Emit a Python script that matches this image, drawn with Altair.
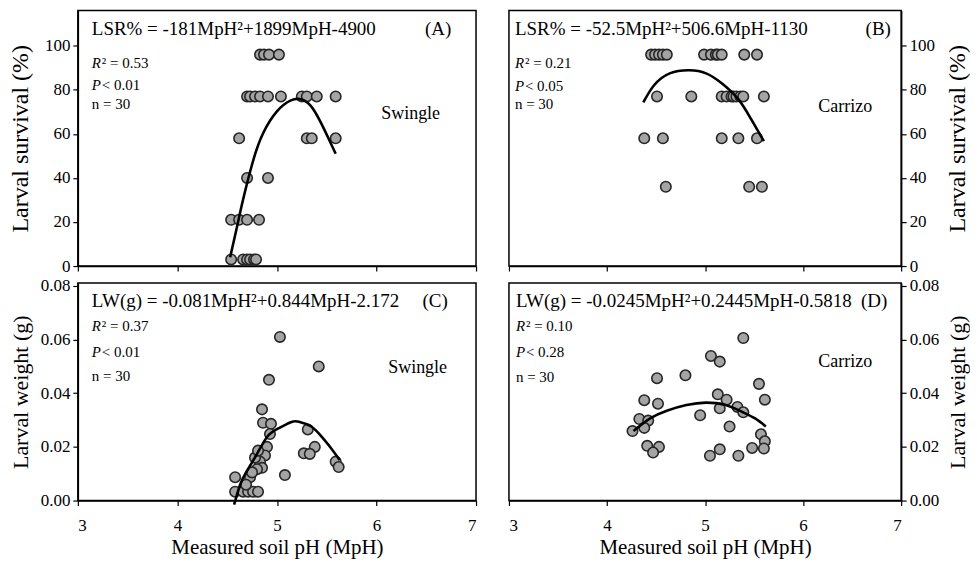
import altair as alt
import pandas as pd

FONT = "Liberation Serif"

# ---------------- data ----------------
# (A) Swingle, larval survival (%)
a_ph = [4.83, 4.87, 4.92, 5.02,
        4.70, 4.73, 4.78, 4.83, 4.91, 5.04, 5.25, 5.30, 5.40, 5.59,
        4.62, 5.30, 5.35, 5.59,
        4.70, 4.91,
        4.54, 4.62, 4.70, 4.82,
        4.54, 4.66, 4.70, 4.73, 4.77, 4.79]
a_val = [96, 96, 96, 96,
         77, 77, 77, 77, 77, 77, 77, 77, 77, 77,
         58, 58, 58, 58,
         40, 40,
         21, 21, 21, 21,
         3, 3, 3, 3, 3, 3]
a_fit_ph = [4.53, 4.59, 4.66, 4.76, 4.86, 5.00, 5.14, 5.24, 5.34, 5.44, 5.53, 5.59]
a_fit_val = [4.0, 16.0, 30.2, 47.7, 60.2, 70.2, 75.2, 75.7, 72.7, 65.2, 56.8, 51.0]

# (B) Carrizo, larval survival (%)
b_ph = [4.45, 4.49, 4.53, 4.57, 4.61, 4.99, 5.06, 5.11, 5.13, 5.17, 5.40, 5.53,
        4.51, 4.86, 5.17, 5.22, 5.27, 5.29, 5.32, 5.36, 5.39, 5.60,
        4.38, 4.57, 5.17, 5.34, 5.53,
        4.60, 5.45, 5.58]
b_val = [96] * 12 + [77] * 10 + [58] * 5 + [36] * 3
b_fit_ph = [4.37, 4.48, 4.64, 4.84, 5.01, 5.17, 5.34, 5.47, 5.60]
b_fit_val = [74.3, 82.1, 87.5, 88.9, 87.5, 83.0, 75.7, 66.7, 56.7]

# (C) Swingle, larval weight (g)
c_ph = [5.03, 5.42, 4.92, 4.85, 4.86, 4.94, 4.93, 5.31, 4.90, 4.88,
        4.83, 4.85, 5.38, 5.27, 5.33, 5.59, 5.62, 5.08, 4.58, 4.73,
        4.80, 4.58, 4.66, 4.71, 4.76, 4.81, 4.69, 4.78, 4.81, 4.75]
c_val = [0.061, 0.050, 0.045, 0.034, 0.029, 0.0286, 0.0248, 0.0265, 0.020, 0.0168,
         0.0145, 0.0122, 0.020, 0.0176, 0.0174, 0.0145, 0.0125, 0.0095, 0.0087, 0.0087,
         0.0117, 0.0033, 0.0033, 0.0033, 0.0033, 0.0033, 0.0059, 0.016, 0.0186, 0.0105]
c_fit_ph = [4.57, 4.63, 4.69, 4.80, 4.90, 5.00, 5.14, 5.22, 5.34, 5.44, 5.54, 5.63]
c_fit_val = [-0.0015, 0.0059, 0.0105, 0.0174, 0.0237, 0.0266, 0.0292, 0.0294, 0.0277, 0.0242, 0.0197, 0.0151]

# (D) Carrizo, larval weight (g)
d_ph = [5.39, 5.06, 5.15, 4.51, 4.80, 5.55, 4.38, 4.52, 5.61, 5.13,
        5.22, 5.33, 5.39, 5.15, 4.95, 4.33, 4.42, 4.38, 4.26, 5.25,
        5.57, 5.61, 4.41, 4.53, 4.47, 5.05, 5.15, 5.34, 5.48, 5.60]
d_val = [0.0606, 0.0539, 0.0518, 0.0456, 0.0467, 0.0435, 0.0374, 0.0361, 0.0376, 0.0396,
         0.0376, 0.0349, 0.0329, 0.0344, 0.0318, 0.0304, 0.0298, 0.0271, 0.0259, 0.0276,
         0.0247, 0.0221, 0.0204, 0.0200, 0.0179, 0.0167, 0.0191, 0.0167, 0.0196, 0.0194]
d_fit_ph = [4.27, 4.44, 4.61, 4.81, 5.01, 5.21, 5.37, 5.51, 5.62]
d_fit_val = [0.0259, 0.0306, 0.0335, 0.0356, 0.0365, 0.0356, 0.0332, 0.0306, 0.0276]

x_ticks = [3, 4, 5, 6, 7]
surv_ticks = [0, 20, 40, 60, 80, 100]
weight_ticks = [0.00, 0.02, 0.04, 0.06, 0.08]

eqs = {
    "A": "LSR% = -181MpH\u00b2+1899MpH-4900",
    "B": "LSR% = -52.5MpH\u00b2+506.6MpH-1130",
    "C": "LW(g) = -0.081MpH\u00b2+0.844MpH-2.172",
    "D": "LW(g) = -0.0245MpH\u00b2+0.2445MpH-0.5818",
}
stats = {
    "A": ["0.53", "< 0.01"],
    "B": ["0.21", "< 0.05"],
    "C": ["0.37", "< 0.01"],
    "D": ["0.10", "< 0.28"],
}
cultivar = {"A": "Swingle", "B": "Carrizo", "C": "Swingle", "D": "Carrizo"}


def txt(s, x, y, size, align="left", style="normal"):
    return alt.Chart(pd.DataFrame({"t": [s]})).mark_text(
        align=align, baseline="middle", font=FONT, fontSize=size,
        fontStyle=style, color="black"
    ).encode(text="t:N", x=alt.value(x), y=alt.value(y))


def panel(key, ph, val, fph, fval, w, h, ydom, yticks, yfmt, yorient, ytitle,
          tsize, bottom, pos):
    pts = pd.DataFrame({"ph": ph, "v": val})
    fit = pd.DataFrame({"ph": fph, "v": fval})
    xaxis = alt.Axis(values=x_ticks, labels=bottom, format="d",
                     title="Measured soil pH (MpH)" if bottom else None,
                     labelPadding=12, titlePadding=3)
    if yorient == "left":
        yaxis = alt.Axis(values=yticks, format=yfmt, orient="left", title=ytitle,
                         titleX=-57, titleBaseline="middle", titleAngle=270,
                         titleFontSize=tsize)
    else:
        yaxis = alt.Axis(values=yticks, format=yfmt, orient="right", title=ytitle,
                         titleX=56, titleBaseline="middle", titleAngle=270,
                         titleFontSize=tsize)
    xs = alt.X("ph:Q", scale=alt.Scale(domain=[3, 7], nice=False, zero=False), axis=xaxis)
    ys = alt.Y("v:Q", scale=alt.Scale(domain=ydom, nice=False, zero=False), axis=yaxis)
    points = alt.Chart(pts).mark_point(
        shape="circle", filled=True, size=110, fill="#a4a4a4", stroke="#262626",
        strokeWidth=1.6, opacity=1
    ).encode(x=xs, y=ys)
    line = alt.Chart(fit).mark_line(color="black", strokeWidth=2.6,
                                    interpolate="natural").encode(x="ph:Q", y="v:Q")
    p = pos
    layers = [points, line,
              txt(eqs[key], p["eqx"], p["eqy"], 19),
              txt("(" + key + ")", p["lx"], p["eqy"], 19, align="center"),
              txt("R", p["eqx"], p["r"], 15, style="italic"),
              txt("\u00b2 = " + stats[key][0], p["eqx"] + 10, p["r"], 15),
              txt("P", p["eqx"], p["p"], 15, style="italic"),
              txt(" " + stats[key][1], p["eqx"] + 10, p["p"], 15),
              txt("n = 30", p["eqx"], p["n"], 15),
              txt(cultivar[key], p["cx"], p["cy"], 18)]
    return alt.layer(*layers).properties(width=w, height=h)


WA, WB, HT, HB = 399, 393, 256, 218

A = panel("A", a_ph, a_val, a_fit_ph, a_fit_val, WA, HT, [0, 116], surv_ticks, "d",
          "left", "Larval survival (%)", 24, False,
          dict(eqx=14, eqy=18, lx=361, r=53, p=75, n=94, cx=304, cy=104))
B = panel("B", b_ph, b_val, b_fit_ph, b_fit_val, WB, HT, [0, 116], surv_ticks, "d",
          "right", "Larval survival (%)", 24, False,
          dict(eqx=6, eqy=18, lx=370, r=53, p=76, n=94, cx=310, cy=97))
C = panel("C", c_ph, c_val, c_fit_ph, c_fit_val, WA, HB, [0, 0.0811], weight_ticks, ".2f",
          "left", "Larval weight (g)", 22, True,
          dict(eqx=14, eqy=18, lx=358, r=43, p=69, n=93, cx=311, cy=85))
D = panel("D", d_ph, d_val, d_fit_ph, d_fit_val, WB, HB, [0, 0.0811], weight_ticks, ".2f",
          "right", "Larval weight (g)", 22, True,
          dict(eqx=7, eqy=18, lx=366, r=43, p=69, n=94, cx=310, cy=79))

chart = alt.concat(
    A, B, C, D, columns=2, spacing=alt.RowColnumber(row=1, column=29)
).properties(
    padding={"left": 0, "top": 1, "right": 0, "bottom": 0},
    background="white",
).configure_view(
    stroke="black", strokeWidth=1.5
).configure_axis(
    grid=False, domainColor="black", domainWidth=1.5, tickColor="black",
    tickSize=5, tickWidth=1.2, labelFont=FONT, labelFontSize=17, labelColor="black",
    labelPadding=3, titleFont=FONT, titleFontSize=21, titleFontWeight="normal",
    titleColor="black"
)

chart.save("out.html", embed_options={"renderer": "svg", "actions": False})
